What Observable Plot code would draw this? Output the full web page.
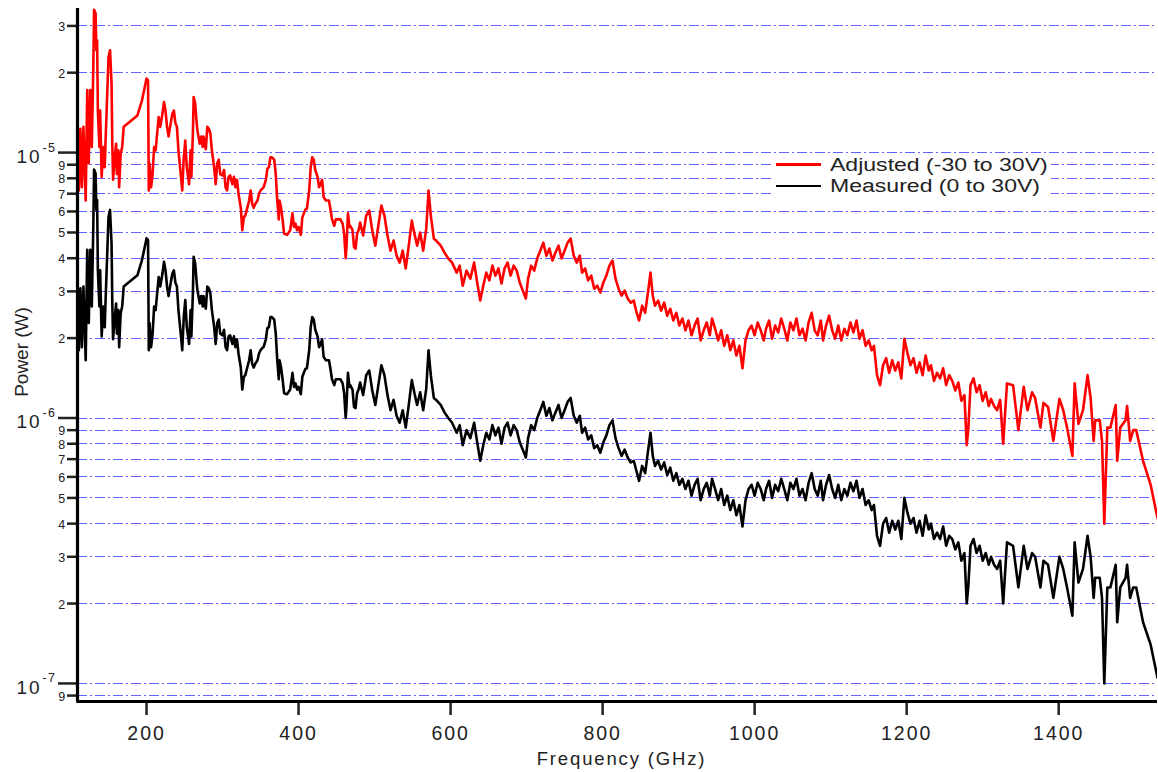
<!DOCTYPE html>
<html><head><meta charset="utf-8">
<script src="https://cdn.jsdelivr.net/npm/d3@7"></script>
<script src="https://cdn.jsdelivr.net/npm/@observablehq/plot@0.6"></script>
<style>
html,body{margin:0;padding:0;background:#fff;}
#wrap{position:relative;width:1158px;height:772px;overflow:hidden;font-family:"Liberation Sans",Arial,sans-serif;color:#222;}
#wrap svg text{letter-spacing:0.1em;}
#wrap svg text.norm{letter-spacing:0;}
#legend{position:absolute;left:773px;top:155px;width:278px;height:41px;background:#fff;}
.sw{position:absolute;left:3px;width:45px;}
.lbl{position:absolute;left:57px;font-size:18px;line-height:20px;white-space:nowrap;transform:scaleX(1.28);transform-origin:0 50%;}
</style></head><body><div id="wrap"></div>
<script>
// Frequency (GHz), power (µW)
const adjusted = [[109,12.1],[111,7.2],[113,12.3],[115,7.4],[117,12.5],[120,6.6],[122,17.2],[124,9.1],[126,17.2],[128,10.5],[130,21.0],[131,34.5],[133,33.4],[134,24.3],[135,26.5],[136,14.4],[138,10.5],[139,14.4],[141,8.1],[143,10.5],[145,8.8],[146,10.8],[148,15.7],[150,22.9],[152,24.3],[154,18.2],[155,10.8],[156,7.9],[158,9.4],[160,10.8],[161,8.3],[163,10.2],[164,7.4],[166,9.9],[168,10.5],[170,12.5],[188,13.8],[194,15.7],[200,19.0],[202,18.7],[203,7.2],[204,9.1],[206,7.4],[208,8.3],[210,10.5],[212,10.2],[214,11.8],[216,13.6],[218,12.5],[221,14.0],[223,15.5],[225,14.4],[227,12.5],[229,11.5],[231,12.5],[234,14.0],[236,14.4],[238,12.9],[240,12.5],[242,10.2],[245,8.3],[247,7.2],[249,9.6],[251,11.1],[253,8.8],[256,7.6],[258,10.2],[259,8.1],[261,11.8],[262,16.2],[264,15.3],[266,12.9],[267,12.1],[270,10.8],[272,11.5],[274,10.5],[275,11.5],[278,10.3],[280,12.5],[282,12.3],[284,11.8],[286,10.2],[289,8.8],[291,7.6],[293,9.1],[295,9.4],[297,8.3],[300,8.2],[302,8.6],[304,7.4],[306,7.2],[308,8.1],[310,8.2],[313,7.6],[315,8.1],[317,7.4],[319,7.9],[321,7.0],[324,6.2],[326,5.1],[328,5.7],[330,5.8],[332,6.1],[335,6.6],[337,7.2],[339,6.4],[341,6.2],[343,6.4],[346,6.6],[348,7.0],[350,7.2],[352,7.3],[354,7.4],[357,7.9],[359,8.7],[361,8.8],[363,9.6],[365,9.6],[368,9.4],[370,8.3],[372,6.6],[374,5.6],[375,6.6],[377,6.2],[379,5.6],[381,4.95],[385,4.9],[389,5.1],[392,5.9],[394,5.25],[396,5.4],[398,5.1],[400,5.25],[403,4.9],[405,5.7],[407,5.9],[409,6.1],[411,6.15],[414,7.2],[416,8.8],[418,9.6],[420,9.4],[422,8.6],[425,8.1],[427,7.4],[429,7.6],[431,7.9],[433,6.8],[436,6.6],[438,6.6],[440,6.6],[442,6.1],[444,5.6],[447,5.3],[449,5.6],[451,5.6],[455,5.6],[458,5.4],[460,4.95],[462,4.0],[463,4.4],[465,5.9],[467,5.25],[468,5.3],[471,5.1],[473,4.4],[475,4.35],[477,4.95],[479,5.1],[481,5.45],[485,4.87],[489,5.79],[493,6.05],[497,5.08],[501,4.46],[505,5.31],[509,6.31],[513,5.79],[517,4.87],[521,4.27],[525,4.66],[529,4.09],[533,3.85],[537,4.27],[541,3.66],[545,4.46],[549,5.54],[553,4.87],[556,4.46],[560,5.0],[564,4.27],[568,5.17],[571,7.19],[574,5.79],[578,4.74],[581,4.66],[587,4.46],[592,4.2],[597,3.99],[602,3.85],[608,3.53],[612,3.75],[616,3.15],[621,3.59],[626,3.35],[631,3.85],[635,3.24],[639,2.77],[643,3.15],[647,3.53],[651,3.3],[655,3.75],[659,3.44],[663,3.66],[667,3.21],[671,3.66],[675,3.85],[679,3.44],[683,3.75],[687,3.59],[691,3.24],[695,3.02],[699,2.82],[702,3.35],[706,3.75],[710,3.59],[714,3.99],[718,4.27],[722,4.58],[726,4.09],[730,4.35],[734,3.92],[738,4.2],[742,4.46],[746,3.99],[750,4.27],[754,4.58],[758,4.74],[762,4.09],[766,3.85],[770,4.09],[773,3.53],[777,3.66],[781,3.3],[785,3.44],[789,3.07],[793,3.15],[797,2.97],[801,3.24],[805,3.44],[809,3.75],[813,3.92],[817,3.35],[821,3.07],[825,2.89],[829,3.02],[833,2.82],[837,2.72],[841,2.77],[844,2.54],[848,2.33],[852,2.65],[856,2.49],[860,3.02],[863,3.53],[866,2.89],[869,2.65],[873,2.77],[877,2.54],[881,2.72],[885,2.43],[889,2.58],[893,2.33],[897,2.49],[901,2.23],[905,2.37],[909,2.14],[913,2.33],[917,2.05],[921,2.23],[925,2.37],[929,1.96],[933,2.14],[937,2.29],[941,2.05],[944,2.37],[948,2.17],[952,1.96],[956,2.14],[960,1.87],[964,2.05],[968,1.8],[972,1.96],[976,1.72],[980,1.87],[984,1.54],[988,1.96],[992,2.14],[996,2.23],[1000,2.05],[1004,2.29],[1008,2.14],[1012,1.96],[1015,2.17],[1019,2.33],[1023,1.99],[1027,2.23],[1031,2.1],[1035,2.37],[1039,2.17],[1043,1.96],[1047,2.29],[1051,2.14],[1055,2.37],[1059,2.05],[1063,2.17],[1067,1.96],[1071,2.29],[1075,2.49],[1079,2.14],[1083,2.05],[1087,2.33],[1090,1.96],[1094,2.23],[1098,2.43],[1102,2.14],[1106,1.99],[1110,2.23],[1114,1.96],[1118,2.17],[1122,2.05],[1126,2.29],[1130,2.1],[1134,2.33],[1138,1.99],[1142,2.14],[1146,1.87],[1150,1.96],[1154,1.8],[1157,1.87],[1161,1.45],[1165,1.33],[1169,1.58],[1173,1.68],[1177,1.48],[1181,1.65],[1185,1.51],[1189,1.62],[1193,1.41],[1197,1.99],[1201,1.76],[1205,1.58],[1209,1.68],[1213,1.48],[1217,1.62],[1221,1.45],[1225,1.72],[1229,1.51],[1232,1.58],[1236,1.38],[1240,1.48],[1244,1.41],[1248,1.54],[1252,1.33],[1256,1.45],[1260,1.38],[1264,1.27],[1268,1.36],[1272,1.16],[1276,1.22],[1279,0.79],[1281,0.9],[1284,1.33],[1288,1.41],[1292,1.25],[1296,1.33],[1300,1.16],[1304,1.25],[1308,1.11],[1311,1.18],[1315,1.11],[1319,1.07],[1323,1.17],[1327,0.80],[1332,1.35],[1340,1.33],[1347,0.90],[1354,1.31],[1359,1.07],[1365,1.25],[1369,1.19],[1376,0.92],[1380,1.14],[1386,1.10],[1393,0.82],[1401,1.18],[1406,1.07],[1411,0.92],[1418,0.72],[1421,1.35],[1426,0.95],[1432,1.07],[1438,1.45],[1442,1.19],[1446,0.82],[1448,0.98],[1454,0.98],[1457,0.82],[1460,0.40],[1464,0.92],[1468,0.92],[1475,1.12],[1477,0.69],[1481,0.92],[1488,0.98],[1490,1.11],[1494,0.82],[1498,0.90],[1502,0.90],[1511,0.69],[1521,0.56],[1530,0.42]];
const measured = [[109,3.03],[111,1.8],[113,3.08],[115,1.85],[117,3.13],[120,1.65],[122,4.3],[124,2.28],[126,4.3],[128,2.63],[130,5.25],[131,8.63],[133,8.35],[134,6.08],[135,6.63],[136,3.6],[138,2.63],[139,3.6],[141,2.03],[143,2.63],[145,2.2],[146,2.7],[148,3.93],[150,5.73],[152,6.08],[154,4.55],[155,2.7],[156,1.98],[158,2.35],[160,2.7],[161,2.08],[163,2.55],[164,1.85],[166,2.48],[168,2.63],[170,3.13],[188,3.45],[194,3.93],[200,4.75],[202,4.68],[203,1.8],[204,2.28],[206,1.85],[208,2.08],[210,2.63],[212,2.55],[214,2.95],[216,3.4],[218,3.13],[221,3.5],[223,3.88],[225,3.6],[227,3.13],[229,2.88],[231,3.13],[234,3.5],[236,3.6],[238,3.23],[240,3.13],[242,2.55],[245,2.08],[247,1.8],[249,2.4],[251,2.78],[253,2.2],[256,1.9],[258,2.55],[259,2.03],[261,2.95],[262,4.05],[264,3.83],[266,3.23],[267,3.03],[270,2.7],[272,2.88],[274,2.63],[275,2.88],[278,2.58],[280,3.13],[282,3.08],[284,2.95],[286,2.55],[289,2.2],[291,1.9],[293,2.28],[295,2.35],[297,2.08],[300,2.05],[302,2.15],[304,1.85],[306,1.8],[308,2.03],[310,2.05],[313,1.9],[315,2.03],[317,1.85],[319,1.98],[321,1.75],[324,1.55],[326,1.28],[328,1.43],[330,1.45],[332,1.53],[335,1.65],[337,1.8],[339,1.6],[341,1.55],[343,1.6],[346,1.65],[348,1.75],[350,1.8],[352,1.83],[354,1.85],[357,1.98],[359,2.18],[361,2.2],[363,2.4],[365,2.4],[368,2.35],[370,2.08],[372,1.65],[374,1.4],[375,1.65],[377,1.55],[379,1.4],[381,1.24],[385,1.23],[389,1.28],[392,1.48],[394,1.31],[396,1.35],[398,1.28],[400,1.31],[403,1.23],[405,1.43],[407,1.48],[409,1.53],[411,1.54],[414,1.8],[416,2.2],[418,2.4],[420,2.35],[422,2.15],[425,2.03],[427,1.85],[429,1.9],[431,1.98],[433,1.7],[436,1.65],[438,1.65],[440,1.65],[442,1.53],[444,1.4],[447,1.33],[449,1.4],[451,1.4],[455,1.4],[458,1.35],[460,1.24],[462,1.0],[463,1.1],[465,1.48],[467,1.31],[468,1.33],[471,1.28],[473,1.1],[475,1.09],[477,1.24],[479,1.28],[481,1.36],[485,1.22],[489,1.45],[493,1.51],[497,1.27],[501,1.12],[505,1.33],[509,1.58],[513,1.45],[517,1.22],[521,1.07],[525,1.17],[529,1.02],[533,0.96],[537,1.07],[541,0.92],[545,1.12],[549,1.39],[553,1.22],[556,1.12],[560,1.25],[564,1.07],[568,1.29],[571,1.8],[574,1.45],[578,1.19],[581,1.17],[587,1.12],[592,1.05],[597,1.0],[602,0.96],[608,0.88],[612,0.94],[616,0.79],[621,0.9],[626,0.84],[631,0.96],[635,0.81],[639,0.69],[643,0.79],[647,0.88],[651,0.83],[655,0.94],[659,0.86],[663,0.92],[667,0.8],[671,0.92],[675,0.96],[679,0.86],[683,0.94],[687,0.9],[691,0.81],[695,0.76],[699,0.71],[702,0.84],[706,0.94],[710,0.9],[714,1.0],[718,1.07],[722,1.15],[726,1.02],[730,1.09],[734,0.98],[738,1.05],[742,1.12],[746,1.0],[750,1.07],[754,1.15],[758,1.19],[762,1.02],[766,0.96],[770,1.02],[773,0.88],[777,0.92],[781,0.83],[785,0.86],[789,0.77],[793,0.79],[797,0.74],[801,0.81],[805,0.86],[809,0.94],[813,0.98],[817,0.84],[821,0.77],[825,0.72],[829,0.76],[833,0.71],[837,0.68],[841,0.69],[844,0.64],[848,0.58],[852,0.66],[856,0.62],[860,0.76],[863,0.88],[866,0.72],[869,0.66],[873,0.69],[877,0.64],[881,0.68],[885,0.61],[889,0.65],[893,0.58],[897,0.62],[901,0.56],[905,0.59],[909,0.54],[913,0.58],[917,0.51],[921,0.56],[925,0.59],[929,0.49],[933,0.54],[937,0.57],[941,0.51],[944,0.59],[948,0.54],[952,0.49],[956,0.54],[960,0.47],[964,0.51],[968,0.45],[972,0.49],[976,0.43],[980,0.47],[984,0.39],[988,0.49],[992,0.54],[996,0.56],[1000,0.51],[1004,0.57],[1008,0.54],[1012,0.49],[1015,0.54],[1019,0.58],[1023,0.5],[1027,0.56],[1031,0.53],[1035,0.59],[1039,0.54],[1043,0.49],[1047,0.57],[1051,0.54],[1055,0.59],[1059,0.51],[1063,0.54],[1067,0.49],[1071,0.57],[1075,0.62],[1079,0.54],[1083,0.51],[1087,0.58],[1090,0.49],[1094,0.56],[1098,0.61],[1102,0.54],[1106,0.5],[1110,0.56],[1114,0.49],[1118,0.54],[1122,0.51],[1126,0.57],[1130,0.53],[1134,0.58],[1138,0.5],[1142,0.54],[1146,0.47],[1150,0.49],[1154,0.45],[1157,0.47],[1161,0.36],[1165,0.33],[1169,0.4],[1173,0.42],[1177,0.37],[1181,0.41],[1185,0.38],[1189,0.41],[1193,0.35],[1197,0.5],[1201,0.44],[1205,0.4],[1209,0.42],[1213,0.37],[1217,0.41],[1221,0.36],[1225,0.43],[1229,0.38],[1232,0.4],[1236,0.35],[1240,0.37],[1244,0.35],[1248,0.39],[1252,0.33],[1256,0.36],[1260,0.35],[1264,0.32],[1268,0.34],[1272,0.29],[1276,0.31],[1279,0.2],[1281,0.23],[1284,0.33],[1288,0.35],[1292,0.31],[1296,0.33],[1300,0.29],[1304,0.31],[1308,0.28],[1311,0.3],[1315,0.28],[1319,0.27],[1323,0.29],[1327,0.2],[1332,0.34],[1340,0.33],[1347,0.23],[1354,0.33],[1359,0.27],[1365,0.31],[1369,0.3],[1376,0.23],[1380,0.29],[1386,0.28],[1393,0.21],[1401,0.3],[1406,0.27],[1411,0.23],[1418,0.18],[1421,0.34],[1426,0.24],[1432,0.27],[1438,0.36],[1442,0.3],[1446,0.21],[1448,0.25],[1454,0.25],[1457,0.21],[1460,0.1],[1464,0.23],[1468,0.23],[1475,0.28],[1477,0.17],[1481,0.23],[1488,0.25],[1490,0.28],[1494,0.21],[1498,0.23],[1502,0.23],[1511,0.17],[1521,0.14],[1530,0.105]];

const seriesNames = ["Adjusted (-30 to 30V)", "Measured (0 to 30V)"];
const seriesColors = ["#ff0000", "#000000"];
const xTicks = [200, 400, 600, 800, 1000, 1200, 1400];
const majorTicks = [1e-7, 1e-6, 1e-5];
const majorExp = ["-7", "-6", "-5"];
const minorTicks = [9e-8, 2e-7, 3e-7, 4e-7, 5e-7, 6e-7, 7e-7, 8e-7, 9e-7, 2e-6, 3e-6, 4e-6, 5e-6, 6e-6, 7e-6, 8e-6, 9e-6, 2e-5, 3e-5];
const minorLabels = ["9", "2", "3", "4", "5", "6", "7", "8", "9", "2", "3", "4", "5", "6", "7", "8", "9", "2", "3"];
const xDomain = [109.2, 1530];
const yDomain = [8.55e-8, 3.49e-5];

const FONT = '"Liberation Sans", Arial, sans-serif';
const gridTicks = [...minorTicks, ...majorTicks];
const toW = d => d[1] * 1e-6;

const chart = Plot.plot({
  width: 1158, height: 772,
  marginTop: 8, marginLeft: 77, marginRight: 1, marginBottom: 71,
  style: {fontFamily: FONT, color: "#222", background: "white", overflow: "visible"},
  x: {domain: xDomain},
  y: {type: "log", domain: yDomain},
  marks: [
    Plot.ruleY(gridTicks, {stroke: "#6060ff", strokeWidth: 1, strokeDasharray: "10,3,2,3", shapeRendering: "crispEdges"}),
    Plot.line(adjusted, {x: d => d[0], y: toW, stroke: seriesColors[0], strokeWidth: 2.6, clip: true}),
    Plot.line(measured, {x: d => d[0], y: toW, stroke: seriesColors[1], strokeWidth: 2.6, clip: true}),
    Plot.axisX({ticks: xTicks, tickFormat: d => String(d), tickSize: 14, tickPadding: 11, strokeWidth: 2.5, fontSize: 19.5, label: null}),
    Plot.axisY({ticks: minorTicks, tickFormat: () => "", tickSize: 10, strokeWidth: 2.5, label: null}),
    Plot.axisY({ticks: majorTicks, tickFormat: () => "", tickSize: 19, strokeWidth: 2.5, label: null}),
    Plot.text(minorTicks, {y: d => d, frameAnchor: "left", text: (d, i) => minorLabels[i], textAnchor: "end", dx: -11, dy: 1, fontSize: 12.5}),
    Plot.text(majorTicks, {y: d => d, frameAnchor: "left", text: () => "10", textAnchor: "end", dx: -36, dy: 4, fontSize: 19}),
    Plot.text(majorTicks, {y: d => d, frameAnchor: "left", text: (d, i) => majorExp[i], textAnchor: "start", dx: -35, dy: -5, fontSize: 12.5}),
    Plot.ruleX([xDomain[0]], {stroke: "#000", strokeWidth: 3.2}),
    Plot.ruleY([yDomain[0]], {stroke: "#000", strokeWidth: 3.2, x1: xDomain[0] - 1, x2: xDomain[1]}),
    Plot.text(["Power (W)"], {frameAnchor: "left", textAnchor: "middle", dx: -56, dy: -3, rotate: -90, fontSize: 19}),
    Plot.text(["Frequency (GHz)"], {frameAnchor: "bottom", textAnchor: "middle", dx: 4, dy: 63, fontSize: 18.5})
  ]
});

d3.select(chart).selectAll("text").filter(function() { return this.textContent === "Power (W)"; }).classed("norm", true);

const wrap = document.getElementById("wrap");
wrap.appendChild(chart);

const legend = document.createElement("div");
legend.id = "legend";
legend.innerHTML = `
  <div class="sw" style="top:8px;height:3px;background:${seriesColors[0]}"></div>
  <div class="lbl" style="top:0px">${seriesNames[0]}</div>
  <div class="sw" style="top:30px;height:2px;background:${seriesColors[1]}"></div>
  <div class="lbl" style="top:21px">${seriesNames[1]}</div>`;
wrap.appendChild(legend);
</script>
</body></html>
